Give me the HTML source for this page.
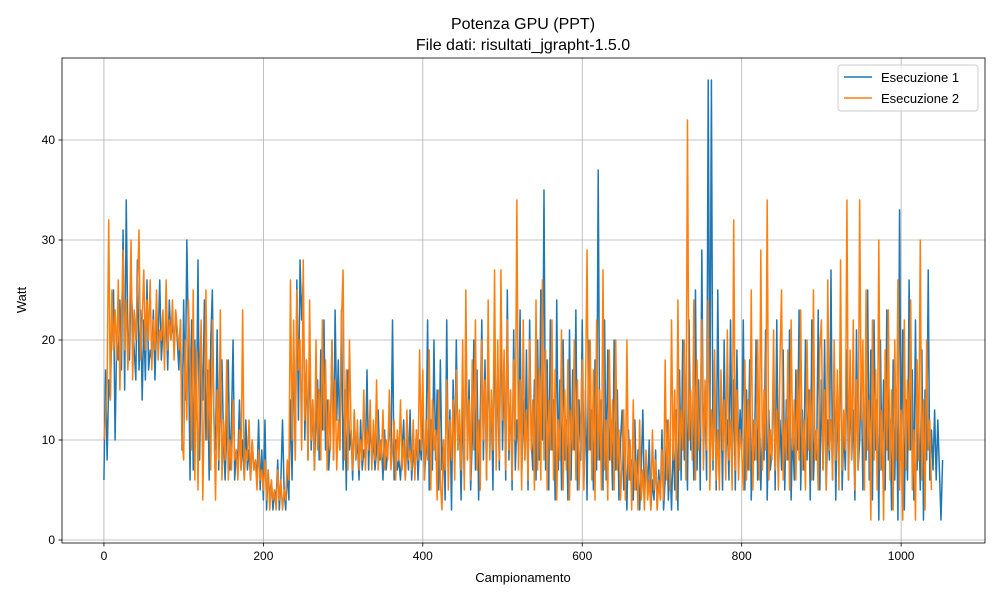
<!DOCTYPE html>
<html><head><meta charset="utf-8"><style>
body{margin:0;background:#fff;width:1000px;height:600px;overflow:hidden}
svg{font-family:"Liberation Sans","DejaVu Sans",sans-serif}
</style></head><body>
<svg id="chart" width="1000" height="600"></svg>
<script>
const xTicks=[0,200,400,600,800,1000];
const yTicks=[0,10,20,30,40];
const sampleStep=2;
const seriesNames=["Esecuzione 1","Esecuzione 2"];
const run1=[6,17,8,16,14,22,25,10,20,18,24,17,31,15,34,20,18,26,22,19,16,28,17,23,14,
22,16,26,17,19,18,23,16,22,20,26,18,21,19,23,17,24,20,22,19,23,20,17,22,9,
24,14,30,20,6,22,7,20,12,28,8,18,14,24,10,17,6,20,25,12,9,21,7,15,18,
10,6,11,18,7,12,20,6,9,8,14,7,10,6,12,7,9,6,10,7,8,6,12,5,9,
4,12,3,7,4,6,3,5,4,8,3,6,12,5,3,7,4,14,6,20,8,26,12,28,22,
26,10,18,8,20,9,14,7,12,16,8,19,11,22,9,14,7,10,20,8,23,12,18,9,23,
7,15,5,17,9,11,6,13,8,10,6,12,7,9,8,17,7,12,8,10,7,9,13,8,10,
6,11,7,9,12,8,22,6,10,7,8,6,9,12,6,10,7,13,6,9,7,11,6,10,8,
14,6,9,22,5,12,7,20,8,15,5,18,7,10,4,22,6,13,3,16,8,20,9,12,4,
14,6,22,8,16,5,10,20,7,17,4,12,22,8,18,6,20,9,14,5,22,10,16,7,24,
9,18,6,25,8,15,5,21,7,12,9,23,6,14,8,19,5,22,10,7,16,6,20,8,25,
10,35,7,18,5,22,9,14,4,24,7,16,5,20,8,12,4,21,6,17,9,23,5,14,8,
22,6,15,4,20,9,13,5,18,7,37,8,14,5,22,6,19,8,12,5,20,7,15,4,10,
13,5,9,3,11,6,8,4,12,5,9,3,7,13,4,8,5,10,3,6,4,9,3,7,4,
11,3,6,12,4,8,3,10,5,13,3,17,6,20,8,14,5,22,9,12,6,25,7,16,5,
29,8,15,6,46,10,46,7,18,5,25,9,14,5,20,8,12,6,22,7,16,5,19,8,13,
9,22,5,15,7,18,4,12,8,20,6,14,5,11,8,21,4,13,7,9,18,5,22,6,12,
7,19,5,14,8,21,4,11,6,17,9,23,5,13,7,20,8,15,4,22,6,11,8,23,5,
16,7,20,5,12,8,27,6,18,4,14,9,22,5,11,7,19,6,15,8,13,4,21,7,10,
17,5,12,8,25,6,19,4,22,9,14,2,20,7,16,5,23,8,12,3,18,6,15,2,33,
8,21,3,14,6,26,9,17,4,22,7,12,5,19,2,15,8,27,6,11,7,13,6,12,7,
2,8];
const run2=[10,12,16,32,14,25,19,23,18,26,15,22,29,19,24,17,21,30,16,23,20,25,31,18,22,
27,19,24,20,26,17,22,19,25,18,21,20,23,17,26,19,22,20,24,18,23,21,19,22,10,
8,20,12,24,18,9,25,6,19,5,16,22,4,14,25,10,18,7,22,12,4,15,8,23,6,
12,8,18,6,10,7,14,8,9,6,11,7,23,6,9,8,12,6,10,7,8,5,9,6,7,
5,8,4,7,3,6,4,5,3,7,4,6,3,5,4,8,6,26,10,22,8,25,17,20,9,
28,12,18,8,24,10,14,7,20,9,15,8,22,11,18,7,14,9,20,8,16,7,12,9,22,
27,8,17,7,20,11,7,13,8,12,7,10,8,15,7,11,9,14,7,12,8,16,7,10,8,
13,7,10,8,15,7,9,12,6,11,8,14,7,10,6,13,8,9,7,12,6,11,8,19,9,
17,6,12,8,19,5,14,9,11,4,15,6,3,10,7,16,5,12,8,14,6,17,9,13,7,
20,5,25,8,14,6,18,9,22,7,12,5,20,10,16,6,24,8,15,9,27,7,20,8,27,
12,19,7,22,9,15,6,18,10,34,7,16,5,22,8,13,6,20,9,14,5,24,7,17,6,
26,8,19,5,14,9,22,6,17,4,12,8,21,5,15,7,18,4,13,9,20,6,16,5,11,
18,5,14,29,9,20,6,17,4,22,8,15,5,27,7,12,4,19,8,14,5,20,7,11,4,
8,13,4,20,6,10,3,14,5,8,3,12,4,7,3,9,4,6,3,11,5,8,3,6,4,
9,4,18,6,12,5,22,8,15,4,24,7,13,9,20,6,42,10,15,8,24,6,18,9,12,
22,7,16,9,24,5,13,8,19,6,11,5,17,9,14,6,21,8,12,5,32,7,15,6,11,
9,5,18,6,14,7,25,5,12,8,20,6,29,7,15,9,34,6,11,8,21,7,13,5,18,
25,6,12,8,19,5,22,9,14,6,17,8,23,7,12,5,20,9,15,6,25,8,11,5,19,
22,7,15,5,26,9,12,6,20,8,17,5,28,7,13,9,34,6,19,8,22,5,16,7,34,
12,20,5,25,9,14,2,22,8,17,5,30,7,13,2,19,9,23,6,15,3,20,8,26,5,
13,2,22,7,16,9,24,5,11,2,18,8,30,6,14,3,20,9,12,5];

const L=62,R=985,T=58,B=543;
const xMin=-52.6,xMax=1105.2,yMin=-0.3,yMax=48.2;
const xs=v=>L+(v-xMin)/(xMax-xMin)*(R-L);
const ys=v=>B-(v-yMin)/(yMax-yMin)*(B-T);
const svg=document.getElementById('chart');
const NS='http://www.w3.org/2000/svg';
function mk(tag,attrs,parent){const e=document.createElementNS(NS,tag);for(const k in attrs)e.setAttribute(k,attrs[k]);(parent||svg).appendChild(e);return e;}

const grid=mk('g',{});


xTicks.forEach(t=>{const l=mk('line',{x1:xs(t),x2:xs(t),y1:T,y2:B,stroke:'#b0b0b0','stroke-width':0.8},grid);

});
yTicks.forEach(t=>{const l=mk('line',{x1:L,x2:R,y1:ys(t),y2:ys(t),stroke:'#b0b0b0','stroke-width':0.8},grid);

});

const colors=['#1f77b4','#ff7f0e'];
[run1,run2].forEach((arr,si)=>{
  const d=arr.map((v,i)=>(i?'L':'M')+xs(i*sampleStep).toFixed(2)+','+ys(v).toFixed(2)).join('');
  const p=mk('path',{d:d,fill:'none',stroke:colors[si],'stroke-width':1.5,'stroke-linejoin':'round'});
  
  
});

const frame=mk('rect',{x:L,y:T,width:R-L,height:B-T,fill:'none',stroke:'#000','stroke-width':0.8});



xTicks.forEach(t=>{
  mk('line',{x1:xs(t),x2:xs(t),y1:B,y2:B+3.5,stroke:'#000','stroke-width':0.8});
  const tx=mk('text',{x:xs(t),y:B+17,'text-anchor':'middle','font-size':12});
  tx.textContent=t;
  
  
});
yTicks.forEach(t=>{
  mk('line',{x1:L-3.5,x2:L,y1:ys(t),y2:ys(t),stroke:'#000','stroke-width':0.8});
  const tx=mk('text',{x:L-7,y:ys(t)+4,'text-anchor':'end','font-size':12});
  tx.textContent=t;
  
  
});
</script>
<svg width="1000" height="600" style="position:absolute;left:0;top:0">
<text x="523" y="29" text-anchor="middle" font-size="16" font-family="Liberation Sans, sans-serif">Potenza GPU (PPT)</text>
<text x="523" y="50" text-anchor="middle" font-size="16" font-family="Liberation Sans, sans-serif">File dati: risultati_jgrapht-1.5.0</text>
<text x="523" y="582" text-anchor="middle" font-size="13" font-family="Liberation Sans, sans-serif">Campionamento</text>
<text x="26" y="300" text-anchor="middle" font-size="13" font-family="Liberation Sans, sans-serif" transform="rotate(-90 26 300)">Watt</text>
<g>
<rect x="838" y="65" width="140" height="46" rx="3" fill="#fff" fill-opacity="0.8" stroke="#ccc"/>
<line x1="844" y1="77" x2="872" y2="77" stroke="#1f77b4" stroke-width="1.5"/>
<text x="881" y="82" font-size="13" font-family="Liberation Sans, sans-serif">Esecuzione 1</text>
<line x1="844" y1="98" x2="872" y2="98" stroke="#ff7f0e" stroke-width="1.5"/>
<text x="881" y="103" font-size="13" font-family="Liberation Sans, sans-serif">Esecuzione 2</text>
</g>
</svg>
</body></html>
